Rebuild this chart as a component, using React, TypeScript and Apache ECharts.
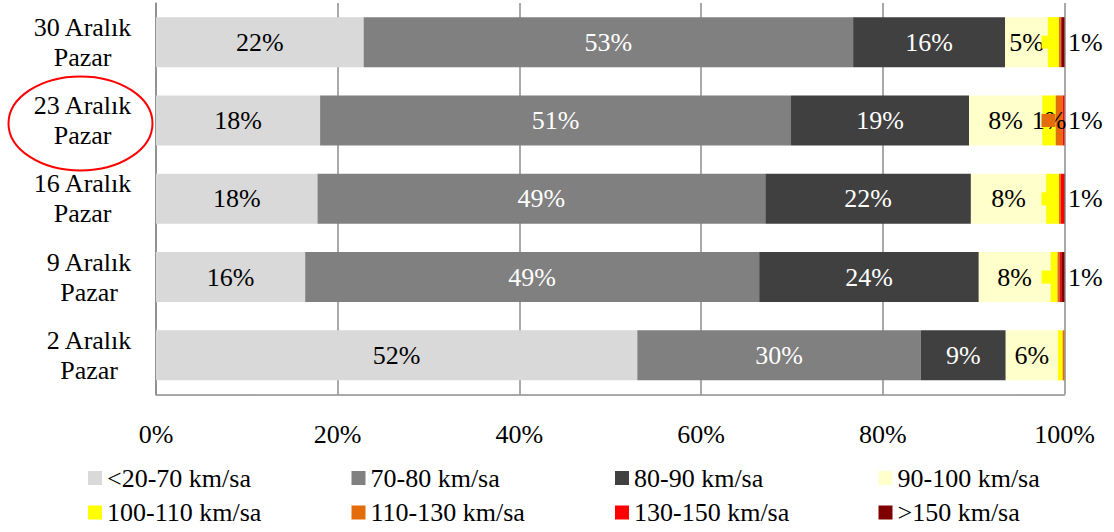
import React, { useEffect, useRef } from "react";
import * as echarts from "echarts";

const categories = ["30 Aralık\nPazar", "23 Aralık\nPazar", "16 Aralık\nPazar", "9 Aralık\nPazar", "2 Aralık\nPazar"];
const seriesNames = ["<20-70 km/sa", "70-80 km/sa", "80-90 km/sa", "90-100 km/sa", "100-110 km/sa", "110-130 km/sa", "130-150 km/sa", ">150 km/sa"];
const seriesColors = ["#d9d9d9", "#808080", "#404040", "#ffffcc", "#ffff00", "#e46c0a", "#ff0000", "#7f0000"];
const labelColors = ["#000000", "#ffffff", "#ffffff", "#000000", "#000000", "#000000", "#000000", "#000000"];

// raw shares (%) per series, categories top to bottom
const v20_70 = [22.4, 17.7, 17.6, 16.1, 51.6];
const v70_80 = [52.8, 50.8, 48.8, 49.0, 30.4];
const v80_90 = [16.4, 19.2, 22.4, 23.7, 9.1];
const v90_100 = [4.6, 7.9, 8.2, 7.75, 5.6];
const v100_110 = [1.2, 1.45, 1.4, 0.75, 0.5];
const v110_130 = [0.2, 0.75, 0.2, 0.2, 0.2];
const v130_150 = [0.05, 0.2, 0.35, 0.2, 0];
const v150 = [0.35, 0, 0.05, 0.35, 0];
const raw = [v20_70, v70_80, v80_90, v90_100, v100_110, v110_130, v130_150, v150];

const xTicks = [0, 20, 40, 60, 80, 100];
// labels drawn inside segments for the big groups, plus one small inside label
const insideSeries = [0, 1, 2, 3];
const extraInside = [{ series: 4, cat: 1 }];
// which series' value is written to the right of each bar (-1: none)
const outsideSeries = [4, 5, 4, 4, -1];

const FONT = "Liberation Serif";

export default function App() {
  const ref = useRef<HTMLDivElement>(null);
  useEffect(() => {
    document.body.style.margin = "0";
    const chart = echarts.init(ref.current!, null, { renderer: "svg" });
    const totals = categories.map((_, i) => raw.reduce((s, arr) => s + arr[i], 0));
    const last = raw.length - 1;
    const series = raw.map((arr, s) => ({
      name: seriesNames[s],
      type: "bar",
      stack: "total",
      barWidth: 50,
      itemStyle: { color: seriesColors[s] },
      label: {
        show: false,
        position: "inside",
        color: labelColors[s],
        fontSize: 26,
        fontFamily: FONT,
        formatter: (p: any) => Math.round(arr[p.dataIndex]) + "%",
      },
      data: arr.map((v, i) => {
        const item: any = { value: (v / totals[i]) * 100 };
        const showInside =
          insideSeries.includes(s) || extraInside.some((e) => e.series === s && e.cat === i);
        if (showInside) item.label = { show: true };
        if (s === last && outsideSeries[i] >= 0) {
          const os = outsideSeries[i];
          item.label = {
            show: true,
            position: "right",
            distance: 4,
            offset: [-27, 0],
            formatter: "{box|}{sp|}{t|" + Math.round(raw[os][i]) + "%}",
            rich: {
              box: { width: 14, height: 13, backgroundColor: seriesColors[os], verticalAlign: "middle" },
              sp: { width: 12.5 },
              t: { fontSize: 26, fontFamily: FONT, color: "#000", verticalAlign: "middle" },
            },
          };
        }
        return item;
      }),
    }));

    const legendCommon = {
      orient: "horizontal",
      left: 88,
      width: 1080,
      padding: 0,
      itemWidth: 14,
      itemHeight: 14,
      itemGap: 10,
      icon: "rect",
      textStyle: { fontSize: 26, fontFamily: FONT, color: "#000", width: 234.5, lineHeight: 26 },
    };

    chart.setOption({
      animation: false,
      grid: { left: 156, right: 49.5, top: 3, bottom: 137.5, containLabel: false },
      legend: [
        { ...legendCommon, top: 465, data: seriesNames.slice(0, 4) },
        { ...legendCommon, top: 499.5, data: seriesNames.slice(4) },
      ],
      xAxis: {
        type: "value",
        min: xTicks[0],
        max: xTicks[xTicks.length - 1],
        interval: xTicks[1] - xTicks[0],
        axisLine: { show: true, lineStyle: { color: "#8c8c8c", width: 1.5 } },
        axisTick: { show: false },
        splitLine: { show: true, lineStyle: { color: "#8c8c8c", width: 1.5 } },
        axisLabel: { formatter: "{value}%", fontSize: 26, fontFamily: FONT, color: "#000", margin: 27 },
      },
      yAxis: {
        type: "category",
        inverse: true,
        data: categories,
        axisLine: { show: true, lineStyle: { color: "#8c8c8c", width: 1.5 } },
        axisTick: { show: false },
        axisLabel: {
          margin: 24,
          fontSize: 26,
          fontFamily: FONT,
          color: "#000",
          formatter: (v: string) => v.split("\n").map((l) => "{c|" + l + "}").join("\n"),
          rich: { c: { align: "center", fontSize: 26, fontFamily: FONT, color: "#000", lineHeight: 30 } },
        },
      },
      series,
      graphic: [
        {
          type: "ellipse",
          shape: { cx: 80.5, cy: 123.4, rx: 72, ry: 47 },
          style: { fill: "none", stroke: "#ff0000", lineWidth: 2 },
          z: 100,
        },
      ],
    });
    return () => chart.dispose();
  }, []);
  return <div ref={ref} style={{ width: 1114, height: 532 }} />;
}
